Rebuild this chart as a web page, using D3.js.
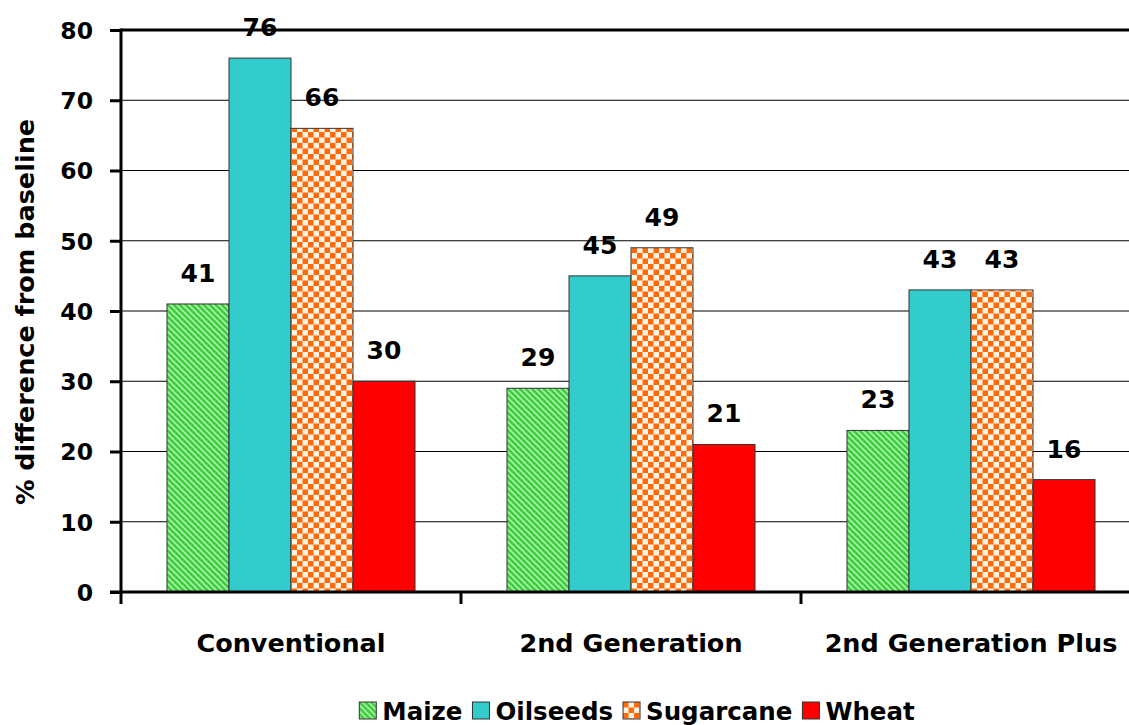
<!DOCTYPE html>
<html>
<head>
<meta charset="utf-8">
<script src="https://cdn.jsdelivr.net/npm/d3@7"></script>
<style>
  html, body { margin: 0; padding: 0; background: #fff; }
  svg text { font-family: "DejaVu Sans", Verdana, sans-serif; font-weight: bold; fill: #000; }
</style>
</head>
<body>
<svg id="chart" width="1129" height="725"></svg>
<script>
// Scenario groups and crop series
const scenarios = ["Conventional", "2nd Generation", "2nd Generation Plus"];
const crops = ["Maize", "Oilseeds", "Sugarcane", "Wheat"];
const maize     = [41, 29, 23];
const oilseeds  = [76, 45, 43];
const sugarcane = [66, 49, 43];
const wheat     = [30, 21, 16];
const yTicks = [0, 10, 20, 30, 40, 50, 60, 70, 80];
const yTitle = "% difference from baseline";

const seriesValues = [maize, oilseeds, sugarcane, wheat];

const svg = d3.select("#chart");
const defs = svg.append("defs");

// Diagonal green stripes for Maize
const stripe = defs.append("pattern").attr("id", "pat-maize")
  .attr("patternUnits", "userSpaceOnUse").attr("width", 6).attr("height", 6);
stripe.append("rect").attr("width", 6).attr("height", 6).attr("fill", "#a4f0a4");
stripe.append("path").attr("d", "M-1,-1 L7,7 M-4,2 L2,8 M4,-2 L10,4")
  .attr("stroke", "#3ccc3c").attr("stroke-width", 2.4);

// Orange checkerboard for Sugarcane
const check = defs.append("pattern").attr("id", "pat-sugar")
  .attr("patternUnits", "userSpaceOnUse").attr("width", 11).attr("height", 11);
check.append("rect").attr("width", 11).attr("height", 11).attr("fill", "#fff4e4");
check.append("rect").attr("width", 5.5).attr("height", 5.5).attr("fill", "#ff6a0a");
check.append("rect").attr("x", 5.5).attr("y", 5.5).attr("width", 5.5).attr("height", 5.5).attr("fill", "#ff6a0a");

const fills = ["url(#pat-maize)", "#33cccc", "url(#pat-sugar)", "#ff0000"];

const plotLeft = 121, plotRight = 1141, plotTop = 30, plotBottom = 592;

const x0 = d3.scaleBand().domain(scenarios).range([plotLeft, plotRight]).paddingInner(0).paddingOuter(0);
const x1 = d3.scaleBand().domain(crops).range([46, x0.bandwidth() - 46]);
const y = d3.scaleLinear().domain([0, 80]).range([plotBottom, plotTop]);

// Gridlines
svg.append("g").selectAll("line").data(yTicks.filter(t => t > 0)).join("line")
  .attr("x1", plotLeft).attr("x2", 1129)
  .attr("y1", d => y(d)).attr("y2", d => y(d))
  .attr("stroke", "#000").attr("stroke-width", d => d === 80 ? 3 : 1);

// Bars
const groups = svg.append("g").selectAll("g").data(scenarios).join("g")
  .attr("transform", d => `translate(${x0(d)},0)`);

const cells = (d, i) => crops.map((c, k) => ({ crop: c, k, v: seriesValues[k][i] }));

groups.selectAll("rect").data(cells).join("rect")
  .attr("x", d => x1(d.crop)).attr("width", x1.bandwidth())
  .attr("y", d => y(d.v)).attr("height", d => y(0) - y(d.v))
  .attr("fill", d => fills[d.k]).attr("stroke", "#333").attr("stroke-width", 1);

groups.selectAll("text.val").data(cells).join("text").attr("class", "val")
  .attr("x", d => x1(d.crop) + x1.bandwidth() / 2)
  .attr("y", d => y(d.v) - 22)
  .attr("text-anchor", "middle").attr("font-size", 25)
  .text(d => d.v);

// Y axis
const yAxis = svg.append("g").attr("transform", `translate(${plotLeft},0)`)
  .call(d3.axisLeft(y).tickValues(yTicks).tickSize(11).tickPadding(17));
yAxis.select(".domain").attr("stroke", "#000").attr("stroke-width", 3)
  .attr("d", `M0,${plotTop - 1.5}V${plotBottom + 1.5}`);
yAxis.selectAll(".tick line").attr("stroke", "#000").attr("stroke-width", 3);
yAxis.selectAll(".tick text").attr("font-size", 23.5).attr("font-family", null).attr("dy", "0.36em");

// X axis
const xAxisG = svg.append("g").attr("transform", `translate(0,${plotBottom})`);
xAxisG.append("line").attr("x1", plotLeft - 11).attr("x2", 1129).attr("y1", 0).attr("y2", 0)
  .attr("stroke", "#000").attr("stroke-width", 3);
xAxisG.selectAll("line.tk").data(scenarios).join("line").attr("class", "tk")
  .attr("x1", d => x0(d)).attr("x2", d => x0(d)).attr("y1", 0).attr("y2", 12)
  .attr("stroke", "#000").attr("stroke-width", 3);
xAxisG.selectAll("text").data(scenarios).join("text")
  .attr("x", d => x0(d) + x0.bandwidth() / 2).attr("y", 60)
  .attr("text-anchor", "middle").attr("font-size", 25.5)
  .text(d => d);

// Y title
svg.append("text").attr("transform", `translate(34,312) rotate(-90)`)
  .attr("text-anchor", "middle").attr("font-size", 25.5).text(yTitle);

// Legend: items laid out in a row, centred under the plot
const swatch = 17, swatchGap = 6, itemGap = 10, legendCenter = 637, legendTop = 702;
const legend = svg.append("g");
const items = legend.selectAll("g").data(crops).join("g");
items.append("rect").attr("width", swatch).attr("height", swatch)
  .attr("fill", (d, i) => fills[i]).attr("stroke", "#333").attr("stroke-width", 1);
items.append("text").attr("x", swatch + swatchGap).attr("y", 18).attr("font-size", 24.5).text(d => d);
let cursor = 0;
const offsets = [];
items.each(function () {
  offsets.push(cursor);
  const w = d3.select(this).select("text").node().getComputedTextLength();
  cursor += swatch + swatchGap + w + itemGap;
});
const totalWidth = cursor - itemGap;
items.attr("transform", (d, i) => `translate(${legendCenter - totalWidth / 2 + offsets[i]},${legendTop})`);
</script>
</body>
</html>
